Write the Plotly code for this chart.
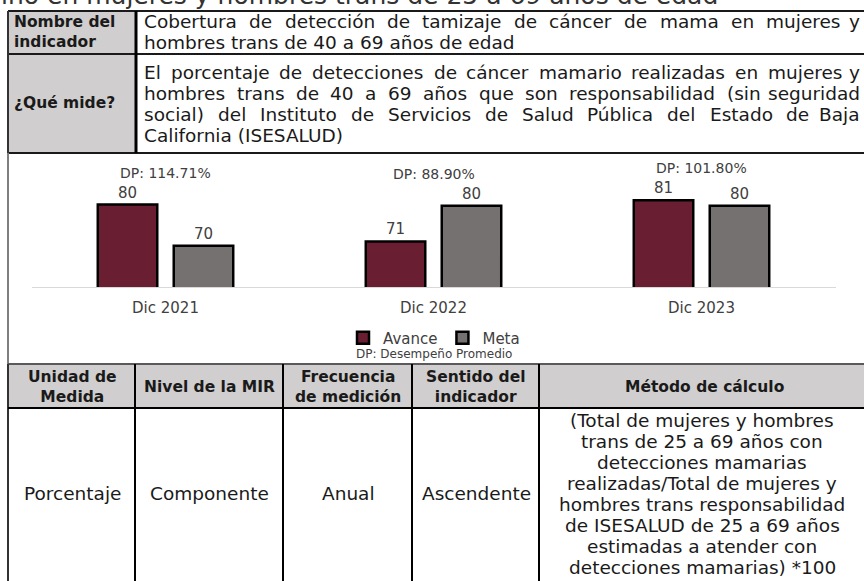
import unicodedata
import plotly.graph_objects as go

W, H = 864, 581

# ---------------- data ----------------
categories = ["Dic 2021", "Dic 2022", "Dic 2023"]
avance = [80.3, 71.1, 81.4]
meta = [70, 80, 80]
avance_labels = ["80", "71", "81"]
meta_labels = ["70", "80", "80"]
dp_labels = ["DP: 114.71%", "DP: 88.90%", "DP: 101.80%"]

title_text = "ino en mujeres y hombres trans de 25 a 69 años de edad"
nombre_lines = ["Cobertura de detección de tamizaje de cáncer de mama en mujeres y",
                "hombres trans de 40 a 69 años de edad"]
mide_lines = ["El porcentaje de detecciones de cáncer mamario realizadas en mujeres y",
              "hombres trans de 40 a 69 años que son responsabilidad (sin seguridad",
              "social) del Instituto de Servicios de Salud Pública del Estado de Baja",
              "California (ISESALUD)"]
header_cells = ["Unidad de<br>Medida", "Nivel de la MIR", "Frecuencia<br>de medición",
                "Sentido del<br>indicador", "Método de cálculo"]
body_cells = ["Porcentaje", "Componente", "Anual", "Ascendente"]
metodo_lines = ["(Total de mujeres y hombres", "trans de 25 a 69 años con",
                "detecciones mamarias", "realizadas/Total de mujeres y",
                "hombres trans responsabilidad", "de ISESALUD de 25 a 69 años",
                "estimadas a atender con", "detecciones mamarias) *100"]

FONT = "DejaVu Sans"
TXT = "#1a1a1a"
GREY_FILL = "#d0cece"
AVANCE_C = "#6a1e32"
META_C = "#767171"
REG = 18.5
BOLD = 15.5

# approximate DejaVu Sans advance widths (units of 2048 per em)
DV = {' ': 651, 'a': 1255, 'b': 1300, 'c': 1126, 'd': 1300, 'e': 1260, 'f': 721,
      'g': 1300, 'h': 1298, 'i': 569, 'j': 569, 'k': 1186, 'l': 569, 'm': 1995,
      'n': 1298, 'o': 1253, 'p': 1300, 'q': 1300, 'r': 842, 's': 1067, 't': 803,
      'u': 1298, 'v': 1212, 'w': 1675, 'x': 1212, 'y': 1212, 'z': 1075,
      'A': 1401, 'B': 1405, 'C': 1430, 'D': 1577, 'E': 1294, 'F': 1178, 'G': 1587,
      'H': 1540, 'I': 604, 'J': 604, 'K': 1343, 'L': 1141, 'M': 1767, 'N': 1532,
      'O': 1612, 'P': 1235, 'Q': 1612, 'R': 1423, 'S': 1300, 'T': 1251, 'U': 1499,
      'V': 1401, 'W': 2025, 'X': 1403, 'Y': 1251, 'Z': 1405,
      '(': 799, ')': 799, '/': 690, '*': 1024, '.': 651, ',': 651, '%': 1947, ':': 690}


def text_w(s, size):
    tot = 0
    for ch in s:
        base = unicodedata.normalize("NFD", ch)[0]
        tot += DV.get(base, 1303)
    return tot / 2048 * size


def X(px):
    return px / W


def Y(py):
    return 1 - py / H


fig = go.Figure()

fig.add_trace(go.Bar(
    name="Avance", x=categories, y=avance, text=avance_labels,
    textposition="outside", cliponaxis=False,
    textfont=dict(size=15, color="#404040", family=FONT),
    marker=dict(color=AVANCE_C, line=dict(color="black", width=2.5)),
    hoverinfo="skip",
))
fig.add_trace(go.Bar(
    name="Meta", x=categories, y=meta, text=meta_labels,
    textposition="outside", cliponaxis=False,
    textfont=dict(size=15, color="#404040", family=FONT),
    marker=dict(color=META_C, line=dict(color="black", width=2.5)),
    hoverinfo="skip",
))

ymin = 59.7
ppu = 4.0
base_py, top_py = 287, 150

annotations = []
for c, a, m, lab in zip(categories, avance, meta, dp_labels):
    annotations.append(dict(x=c, y=max(a, m), xref="x", yref="y", text=lab,
                            showarrow=False, yshift=32, yanchor="middle",
                            font=dict(size=14, color="#404040", family=FONT)))


def ann(px, py, text, size=REG, bold=False, xanchor="left", color=TXT):
    t = f"<b>{text}</b>" if bold else text
    annotations.append(dict(x=X(px), y=Y(py), xref="paper", yref="paper", text=t,
                            showarrow=False, xanchor=xanchor, yanchor="middle",
                            align="center" if xanchor == "center" else "left",
                            font=dict(size=size, color=color, family=FONT)))


def paragraph(lines, x0, x1, y0, dy, size):
    for i, line in enumerate(lines):
        py = y0 + dy * i
        words = line.split(" ")
        if i == len(lines) - 1 or len(words) < 2:
            ann(x0, py, line, size=size)
            continue
        widths = [text_w(w, size) for w in words]
        gap = (x1 - x0 - sum(widths)) / (len(words) - 1)
        x = x0
        for j, (w, ww) in enumerate(zip(words, widths)):
            if j == len(words) - 1:
                ann(x1, py, w, size=size, xanchor="right")
            else:
                ann(x, py, w, size=size)
            x += ww + gap


# partial title at top (cut by the page edge, as in the source)
ann(-1, -5, title_text, size=25, color="#333333")

# top table
ann(12, 22, "Nombre del", size=BOLD, bold=True)
ann(12, 42, "indicador", size=BOLD, bold=True)
ann(12, 103, "¿Qué mide?", size=BOLD, bold=True)
paragraph(nombre_lines, 142, 862, 22, 20, REG)
paragraph(mide_lines, 142, 862, 72, 21, REG)

# legend note
ann(434, 354, "DP: Desempeño Promedio", size=12, xanchor="center", color="#404040")

# bottom table
col_centers = [72, 209, 348, 476, 704]
for cx, txt in zip(col_centers, header_cells):
    annotations.append(dict(x=X(cx), y=Y(387), xref="paper", yref="paper",
                            text=f"<b>{txt}</b>", showarrow=False, xanchor="center",
                            yanchor="middle", align="center",
                            font=dict(size=BOLD, color=TXT, family=FONT)))
for cx, txt in zip(col_centers[:4], body_cells):
    ann(cx, 494, txt, size=REG, xanchor="center")
for i, line in enumerate(metodo_lines):
    ann(702, 420 + 21.1 * i, line, size=REG, xanchor="center")

shapes = []


def rect(x0, y0, x1, y1, fill):
    shapes.append(dict(type="rect", xref="paper", yref="paper", x0=X(x0), x1=X(x1),
                       y0=Y(y1), y1=Y(y0), fillcolor=fill, line=dict(width=0), layer="below"))


def line(x0, y0, x1, y1, color="black", width=2):
    shapes.append(dict(type="line", xref="paper", yref="paper", x0=X(x0), x1=X(x1),
                       y0=Y(y0), y1=Y(y1), line=dict(color=color, width=width), layer="above"))


rect(8, 11, 136, 54, GREY_FILL)
rect(8, 54, 136, 153, GREY_FILL)
rect(8, 364, 880, 408, GREY_FILL)

line(8, 11, 880, 11, "#1a1a1a", 2)
line(8, 54, 880, 54, "#1a1a1a", 2)
line(8, 153, 880, 153, "#1a1a1a", 2)
line(136, 11, 136, 153, "black", 3)
line(8, 11, 8, 153, "#333333", 2)
line(8, 153, 8, 364, "#7f7f7f", 2)
line(8, 364, 880, 364, "#5a5a5a", 2)
line(8, 364, 8, 581, "#333333", 2)
line(8, 408, 880, 408, "black", 2)
for vx in [135, 283, 412, 539]:
    line(vx, 364, vx, 581, "black", 2)

fig.update_layout(
    width=W, height=H, margin=dict(l=0, r=0, t=0, b=0),
    paper_bgcolor="white", plot_bgcolor="white",
    barmode="group", bargap=0.433, bargroupgap=0.217,
    font=dict(family=FONT, color="#404040"),
    xaxis=dict(domain=[X(31.5), X(835.5)], showgrid=False, zeroline=False,
               showline=True, linecolor="#d9d9d9", linewidth=1, ticks="",
               tickfont=dict(size=15, color="#404040", family=FONT),
               ticklabelstandoff=7, fixedrange=True),
    yaxis=dict(domain=[Y(base_py), Y(top_py)],
               range=[ymin, ymin + (base_py - top_py) / ppu],
               visible=False, showgrid=False, zeroline=False, fixedrange=True),
    legend=dict(orientation="h", x=X(434), xanchor="center", y=Y(338), yanchor="middle",
                font=dict(size=15, color="#404040", family=FONT),
                bgcolor="rgba(0,0,0,0)", itemwidth=30, tracegroupgap=0),
    showlegend=True,
    annotations=annotations,
    shapes=shapes,
)

fig.write_html("out.html", config={"displayModeBar": False},
               post_script="document.body.style.margin='0px';")
